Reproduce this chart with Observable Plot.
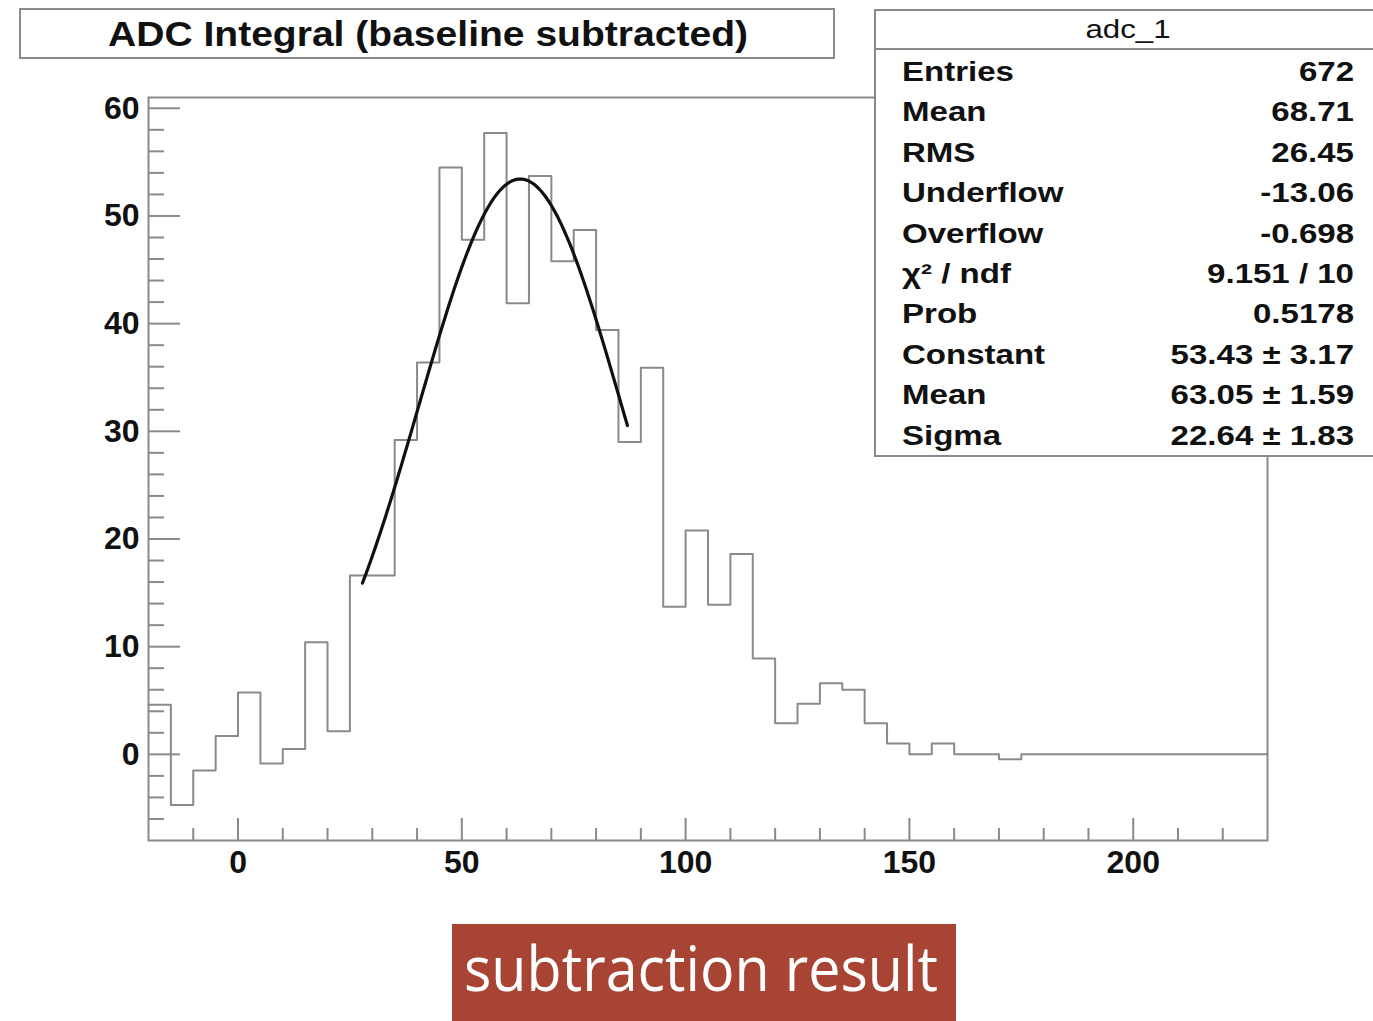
<!DOCTYPE html>
<html>
<head>
<meta charset="utf-8">
<script src="https://cdn.jsdelivr.net/npm/d3@7"></script>
<script src="https://cdn.jsdelivr.net/npm/@observablehq/plot@0.6"></script>
<style>
  html, body { margin: 0; padding: 0; background: #fff; }
  #wrap { position: relative; width: 1373px; height: 1021px; overflow: hidden; background: #fff; }
  #chart { position: absolute; left: 0; top: 0; }
  #overlay { position: absolute; left: 0; top: 0; }
</style>
</head>
<body>
<div id="wrap">
  <div id="chart"></div>
  <svg id="overlay" width="1373" height="1021"></svg>
</div>
<script>
// ---- data ----
const binWidth = 5;
const binLowEdges = d3.range(-20, 230, 5); // 50 bins from -20 to 230
const binContents = [
  4.6, -4.7, -1.5, 1.7, 5.75, -0.85, 0.5, 10.4, 2.15,
  16.6, 16.6, 29.2, 36.4, 54.5, 47.8, 57.7, 41.9, 53.7, 45.8, 48.7, 39.4, 29.0, 35.9,
  13.7, 20.8, 13.9, 18.6, 8.9, 2.9, 4.7, 6.6, 6.0, 2.9, 1.0,
  0, 1.0, 0, 0, -0.45,
  0, 0, 0, 0, 0, 0, 0, 0, 0, 0, 0
];
const xMajorTicks = [0, 50, 100, 150, 200];
const xMinorTicks = [-10, 10, 20, 30, 40, 60, 70, 80, 90, 110, 120, 130, 140, 160, 170, 180, 190, 210, 220];
const yMajorTicks = [0, 10, 20, 30, 40, 50, 60];
const yMinorTicks = [-6, -4, -2, 2, 4, 6, 8, 12, 14, 16, 18, 22, 24, 26, 28, 32, 34, 36, 38, 42, 44, 46, 48, 52, 54, 56, 58];

// gaussian fit parameters (from the stats box) and fit range
const fitConstant = 53.43;
const fitMean = 63.05;
const fitSigma = 22.64;
const fitRange = [27.8, 87.2];

const titleText = "ADC Integral (baseline subtracted)";
const statsName = "adc_1";
const statsLabels = ["Entries", "Mean", "RMS", "Underflow", "Overflow", "χ² / ndf", "Prob", "Constant", "Mean", "Sigma"];
const statsValues = ["672", "68.71", "26.45", "-13.06", "-0.698", "9.151 / 10", "0.5178", "53.43 ± 3.17", "63.05 ± 1.59", "22.64 ± 1.83"];
const captionText = "subtraction result";

// ---- build tables ----
const histPoints = binLowEdges.map((x, i) => ({x, y: binContents[i]}));
histPoints.push({x: binLowEdges[binLowEdges.length - 1] + binWidth, y: binContents[binContents.length - 1]});

const fitPoints = d3.range(fitRange[0], fitRange[1] + 1e-9, 0.4).map(x => ({
  x, y: fitConstant * Math.exp(-0.5 * ((x - fitMean) / fitSigma) ** 2)
}));

const gray = "#8a8a8a";
const font = "'Liberation Sans', Arial, Helvetica, sans-serif";

// layout
const W = 1373, H = 900, mL = 148, mR = 106, mT = 97, mB = 60;
const frameW = W - mL - mR, frameH = H - mT - mB;

const chart = Plot.plot({
  width: W,
  height: H,
  marginLeft: mL,
  marginRight: mR,
  marginTop: mT,
  marginBottom: mB,
  x: {domain: [-20, 230], label: null},
  y: {domain: [-8, 61], label: null},
  style: {fontFamily: font, background: "transparent", overflow: "visible"},
  marks: [
    Plot.line(histPoints, {x: "x", y: "y", curve: "step-after", stroke: gray, strokeWidth: 2}),
    Plot.line(fitPoints, {x: "x", y: "y", stroke: "#111", strokeWidth: 3.2, curve: "linear"}),
    Plot.tickX(xMajorTicks, {x: d => d, insetTop: frameH - 22, stroke: gray, strokeWidth: 2}),
    Plot.tickX(xMinorTicks, {x: d => d, insetTop: frameH - 12, stroke: gray, strokeWidth: 2}),
    Plot.tickY(yMajorTicks, {y: d => d, insetRight: frameW - 32, stroke: gray, strokeWidth: 2}),
    Plot.tickY(yMinorTicks, {y: d => d, insetRight: frameW - 16, stroke: gray, strokeWidth: 2}),
    Plot.frame({stroke: gray, strokeWidth: 2}),
    Plot.axisX(xMajorTicks, {tickSize: 0, tickPadding: 10, fontSize: 32, fontWeight: "bold", label: null, fill: "#111"}),
    Plot.axisY(yMajorTicks, {tickSize: 0, tickPadding: 9, fontSize: 32, fontWeight: "bold", label: null, fill: "#111"})
  ]
});
document.getElementById("chart").appendChild(chart);

// ---- overlay: title box, stats box, caption ----
const svg = d3.select("#overlay");

// title box
svg.append("rect").attr("x", 20).attr("y", 9).attr("width", 814).attr("height", 49)
  .attr("fill", "#fff").attr("stroke", gray).attr("stroke-width", 2);
svg.append("text").attr("x", 428).attr("y", 46)
  .attr("text-anchor", "middle")
  .attr("font-family", font).attr("font-weight", "bold").attr("font-size", 35)
  .attr("textLength", 640).attr("lengthAdjust", "spacingAndGlyphs")
  .attr("fill", "#111")
  .text(titleText);

// stats box
svg.append("rect").attr("x", 875).attr("y", 10).attr("width", 520).attr("height", 446)
  .attr("fill", "#fff").attr("stroke", gray).attr("stroke-width", 2);
svg.append("line").attr("x1", 875).attr("x2", 1373).attr("y1", 49).attr("y2", 49)
  .attr("stroke", gray).attr("stroke-width", 2);
svg.append("g").attr("transform", "translate(1128,38) scale(1.25,1)")
  .append("text").attr("text-anchor", "middle")
  .attr("font-family", font).attr("font-size", 25).attr("fill", "#111")
  .text(statsName);

const rowY = i => 81 + i * 40.4;
statsLabels.forEach((lab, i) => {
  svg.append("g").attr("transform", `translate(902,${rowY(i)}) scale(1.18,1)`)
    .append("text").attr("font-family", font).attr("font-weight", "bold")
    .attr("font-size", 28).attr("fill", "#111").text(lab);
});
statsValues.forEach((val, i) => {
  svg.append("g").attr("transform", `translate(1354,${rowY(i)}) scale(1.18,1)`)
    .append("text").attr("text-anchor", "end").attr("font-family", font).attr("font-weight", "bold")
    .attr("font-size", 28).attr("fill", "#111").text(val);
});

// caption
svg.append("rect").attr("x", 452).attr("y", 924).attr("width", 504).attr("height", 110)
  .attr("fill", "#a84434");
svg.append("text").attr("x", 701).attr("y", 991)
  .attr("text-anchor", "middle")
  .attr("font-family", "'Open Sans', 'Noto Sans', sans-serif").attr("font-size", 62)
  .attr("textLength", 474).attr("lengthAdjust", "spacingAndGlyphs")
  .attr("fill", "#fff")
  .text(captionText);
</script>
</body>
</html>
